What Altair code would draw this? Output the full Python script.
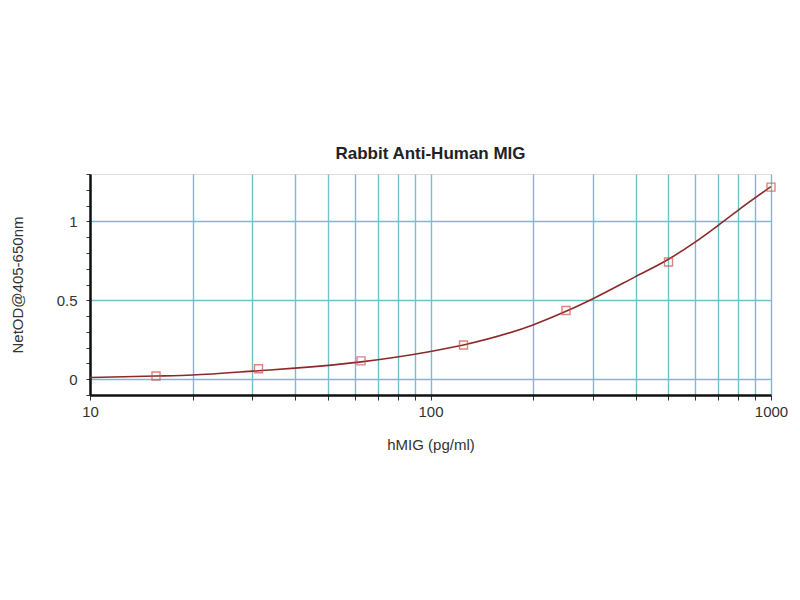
import altair as alt
import pandas as pd

# Standards (measured points)
conc = [15.625, 31.25, 62.5, 125, 250, 500, 1000]
od = [0.02, 0.066, 0.116, 0.217, 0.435, 0.743, 1.217]

# Fitted curve
curve_x = [10, 15.625, 20, 31.25, 40, 62.5, 100, 125, 200, 250, 300, 400, 500, 600, 700, 800, 1000]
curve_y = [0.011, 0.02, 0.027, 0.054, 0.07, 0.11, 0.176, 0.217, 0.344, 0.43, 0.51, 0.65, 0.76, 0.87, 0.975, 1.07, 1.22]

x_ticks = [10, 20, 30, 40, 50, 60, 70, 80, 90, 100, 200, 300, 400, 500, 600, 700, 800, 900, 1000]
y_ticks = [-0.1, 0, 0.1, 0.2, 0.3, 0.4, 0.5, 0.6, 0.7, 0.8, 0.9, 1.0, 1.1, 1.2, 1.3]

pts = pd.DataFrame({"conc": conc, "od": od})
crv = pd.DataFrame({"conc": curve_x, "od": curve_y})

xscale = alt.Scale(type="log", domain=[10, 1000], nice=False)
yscale = alt.Scale(domain=[-0.1, 1.3], nice=False, zero=False)

grid_col = "#74bfcf"
font = "Liberation Sans"
major = "abs(datum.value*2 - round(datum.value*2)) < 1e-6 && datum.value >= -1e-6 && datum.value <= 1.000001"

xaxis = alt.Axis(
    values=x_ticks, tickCount=100,
    labelExpr="(datum.value==10||datum.value==100||datum.value==1000) ? datum.label : ''",
    format="d",
    grid=True, gridColor=grid_col, gridWidth=1.4,
    domainColor="#111", domainWidth=2.5,
    tickColor="#333", tickSize=5, tickWidth=1,
    labelFont=font, labelFontSize=15, labelColor="#333", labelPadding=4,
    labelOverlap=False, labelFlush=False,
    title="hMIG (pg/ml)", titleFont=font, titleFontSize=15, titleFontWeight="normal",
    titleColor="#333", titlePadding=18,
)

yaxis = alt.Axis(
    values=y_ticks, tickCount=100,
    labelExpr="(" + major + ") ? format(datum.value, '~g') : ''",
    grid=True, gridColor=grid_col, gridWidth=1.4,
    gridOpacity={"condition": {"test": major, "value": 1}, "value": 0},
    domainColor="#111", domainWidth=2.5,
    tickColor="#333", tickSize=4, tickWidth=1,
    labelFont=font, labelFontSize=15, labelColor="#333", labelPadding=9,
    labelOverlap=False, labelFlush=False,
    title="NetOD@405-650nm", titleFont=font, titleFontSize=15, titleFontWeight="normal",
    titleColor="#333", titlePadding=31,
)

line = alt.Chart(crv).mark_line(color="#8b2a2a", strokeWidth=1.6, interpolate="monotone", clip=True).encode(
    x=alt.X("conc:Q", scale=xscale, axis=xaxis),
    y=alt.Y("od:Q", scale=yscale, axis=yaxis),
)

points = alt.Chart(pts).mark_point(shape="square", filled=False, color="#d24e4e", size=64, strokeWidth=1.4).encode(
    x=alt.X("conc:Q", scale=xscale),
    y=alt.Y("od:Q", scale=yscale),
)

chart = alt.layer(line, points).properties(
    width=681, height=221,
    title=alt.TitleParams("Rabbit Anti-Human MIG", font=font, fontSize=17, fontWeight="bold",
                          color="#222", offset=4, anchor="middle"),
    autosize=alt.AutoSizeParams(type="none"),
    padding={"left": 82, "top": 166, "right": 20, "bottom": 180},
).configure_view(stroke="#111", strokeWidth=2.5).configure(background="white")

chart.save("out.html", embed_options={"renderer": "svg", "actions": False})
